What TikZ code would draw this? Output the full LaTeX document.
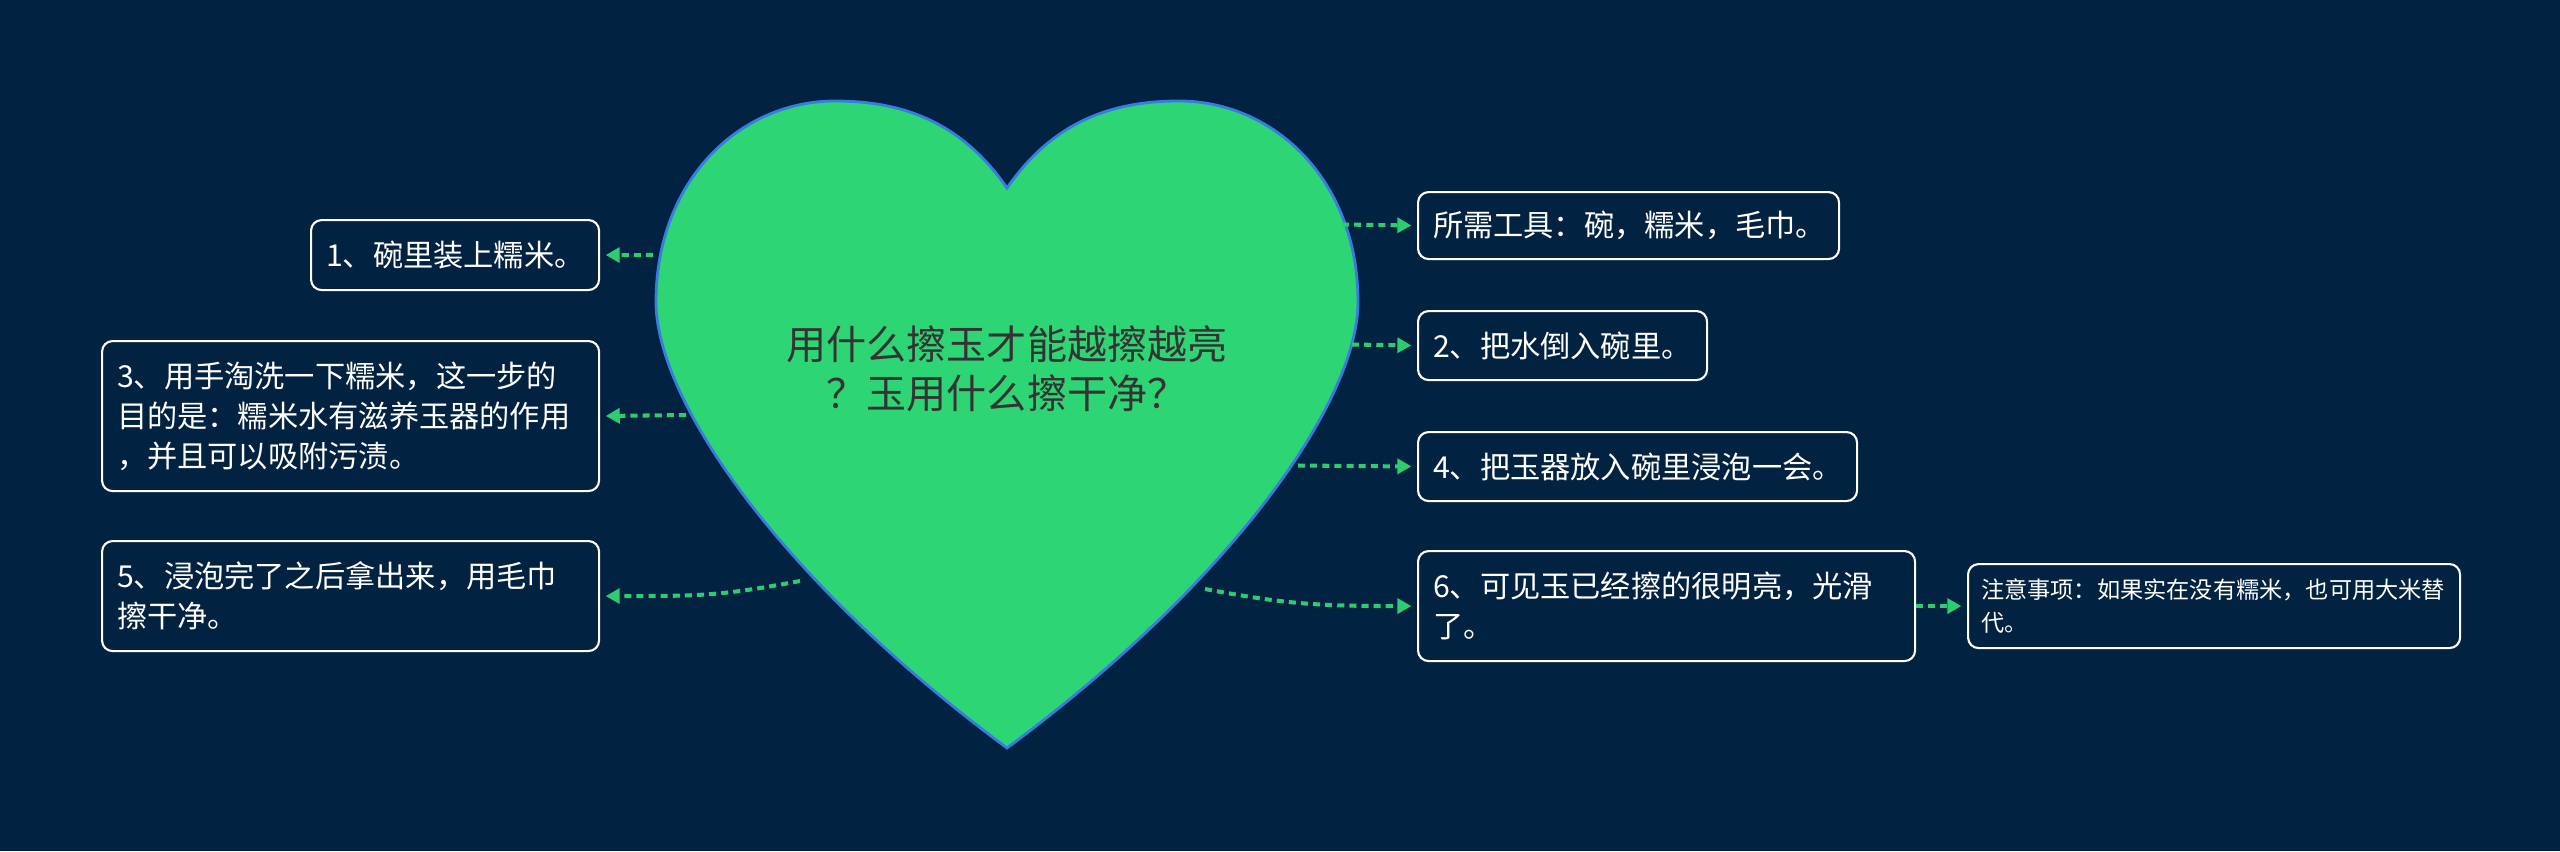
\documentclass[tikz,border=0pt]{standalone}
\usepackage{fontspec}
\newfontfamily\cjk{Noto Sans CJK SC}
\usetikzlibrary{arrows.meta}
\definecolor{BgClr}{RGB}{1,34,64}
\definecolor{HeartClr}{RGB}{46,213,116}
\definecolor{HeartLine}{RGB}{56,124,226}
\definecolor{LinkClr}{RGB}{46,204,113}
\definecolor{TitleClr}{RGB}{51,51,51}

\begin{document}
\begin{tikzpicture}[x=1cm,y=-1cm,
  stepbox/.style={draw=white,line width=.6pt,rounded corners=3pt,fill=BgClr,text=white,
    align=left,inner xsep=.15cm,inner ysep=0pt,anchor=north west,
    font=\cjk\fontsize{8.6}{11.4}\selectfont},
  link/.style={LinkClr,line width=1.15pt,dash pattern=on 2pt off 1.45pt,
    -{Triangle[length=.14cm,width=.15cm]},shorten >=1.6pt}]

\fill[BgClr] (0,0) rectangle (25.6,8.51);

% heart
\draw[fill=HeartClr,draw=HeartLine,line width=.8pt]
  (10.07,1.88) .. controls (9.60,1.20) and (9.00,1.01) .. (8.35,1.01)
  .. controls (7.40,1.01) and (6.56,1.80) .. (6.56,3.02)
  .. controls (6.56,4.00) and (7.80,5.80) .. (10.07,7.48)
  .. controls (12.34,5.80) and (13.58,4.00) .. (13.58,3.02)
  .. controls (13.58,1.80) and (12.74,1.01) .. (11.79,1.01)
  .. controls (11.14,1.01) and (10.54,1.20) .. (10.07,1.88) -- cycle;

\node[TitleClr,align=center,font=\cjk\fontsize{11.4}{14}\selectfont] (title) at (10.07,3.69)
  {用什么擦玉才能越擦越亮\\？玉用什么擦干净？};

% left side
\node[stepbox,text width=2.58cm,minimum height=.70cm] (s1) at (3.10,2.19) {1、碗里装上糯米。};
\node[stepbox,text width=4.67cm,minimum height=1.50cm] (s3) at (1.01,3.40)
  {3、用手淘洗一下糯米，这一步的\\目的是：糯米水有滋养玉器的作用\\，并且可以吸附污渍。};
\node[stepbox,text width=4.67cm,minimum height=1.10cm] (s5) at (1.01,5.40)
  {5、浸泡完了之后拿出来，用毛巾\\擦干净。};

% right side
\node[stepbox,text width=3.91cm,minimum height=.67cm] (tools) at (14.17,1.91) {所需工具：碗，糯米，毛巾。};
\node[stepbox,text width=2.59cm,minimum height=.69cm] (s2) at (14.17,3.10) {2、把水倒入碗里。};
\node[stepbox,text width=4.09cm,minimum height=.69cm] (s4) at (14.17,4.31) {4、把玉器放入碗里浸泡一会。};
\node[stepbox,text width=4.67cm,minimum height=1.10cm] (s6) at (14.17,5.50)
  {6、可见玉已经擦的很明亮，光滑\\了。};
\node[stepbox,text width=4.66cm,minimum height=.84cm,inner xsep=.13cm,
  font=\cjk\fontsize{6.6}{9.3}\selectfont] (note) at (19.67,5.63)
  {注意事项：如果实在没有糯米，也可用大米替\\代。};

\coordinate (h1) at (6.53,2.55);
\coordinate (h3) at (6.86,4.15);
\coordinate (h5) at (8.00,5.81);
\coordinate (h0) at (13.42,2.245);
\coordinate (h2) at (13.52,3.445);
\coordinate (h4) at (12.98,4.655);
\coordinate (h6) at (12.05,5.89);

\draw[link] (h1) -- (s1.east);
\draw[link] (h3) -- (s3.east);
\draw[link] (h5) .. controls +(-.8,.15) and +(1,0) .. (s5.east);
\draw[link] (h0) -- (tools.west);
\draw[link] (h2) -- (s2.west);
\draw[link] (h4) -- (s4.west);
\draw[link] (h6) .. controls +(.8,.15) and +(-1,0) .. (s6.west);
\draw[link] (s6.east) -- (note.west);

\end{tikzpicture}
\end{document}
